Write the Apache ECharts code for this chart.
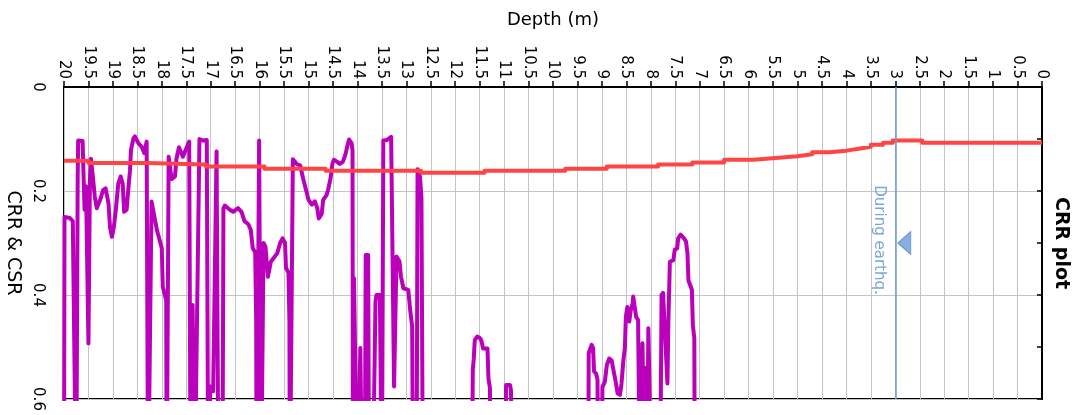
<!DOCTYPE html>
<html>
<head>
<meta charset="utf-8">
<script src="https://cdn.jsdelivr.net/npm/echarts@6/dist/echarts.min.js"></script>
<style>
html,body{margin:0;padding:0;background:#fff;}
#chart{width:1074px;height:415px;}
</style>
</head>
<body>
<div id="chart"></div>
<script>
// CRR (purple, spiky) : depth (m) and ratio; 0.8 = beyond the 0.6 axis limit
const crrDepth = [20.00,19.99,19.88,19.82,19.81,19.75,19.73,19.72,19.71,19.62,19.58,19.55,19.50,19.47,19.45,19.41,19.37,19.33,19.26,19.20,19.15,19.09,19.06,19.02,18.98,18.94,18.89,18.84,18.80,18.77,18.72,18.69,18.65,18.63,18.58,18.55,18.48,18.41,18.36,18.31,18.28,18.24,18.21,18.14,18.10,18.00,17.98,17.91,17.90,17.87,17.86,17.80,17.73,17.70,17.65,17.61,17.57,17.44,17.41,17.37,17.33,17.23,17.16,17.08,17.05,17.01,16.95,16.88,16.84,16.76,16.74,16.71,16.61,16.54,16.44,16.37,16.31,16.23,16.18,16.14,16.09,16.07,16.06,16.02,16.01,15.97,15.94,15.92,15.88,15.83,15.79,15.77,15.72,15.64,15.58,15.53,15.48,15.46,15.41,15.39,15.38,15.35,15.32,15.24,15.17,15.11,15.05,15.00,14.93,14.87,14.82,14.79,14.73,14.70,14.63,14.60,14.55,14.51,14.48,14.41,14.36,14.30,14.27,14.24,14.21,14.17,14.12,14.10,14.09,14.07,14.00,13.94,13.90,13.85,13.83,13.78,13.76,13.69,13.63,13.61,13.54,13.50,13.49,13.47,13.40,13.31,13.27,13.25,13.20,13.14,13.11,13.06,12.96,12.92,12.88,12.86,12.79,12.77,12.72,12.69,12.66,11.66,11.64,11.62,11.60,11.55,11.49,11.46,11.43,11.34,11.32,11.29,11.27,10.98,10.96,10.88,10.86,10.82,9.28,9.27,9.21,9.18,9.16,9.12,9.09,9.07,9.00,8.99,8.94,8.90,8.85,8.80,8.75,8.71,8.68,8.63,8.60,8.56,8.53,8.51,8.48,8.44,8.41,8.37,8.36,8.32,8.30,8.26,8.22,8.19,8.17,8.12,8.10,8.08,8.05,7.98,7.81,7.78,7.75,7.71,7.66,7.64,7.61,7.54,7.51,7.46,7.44,7.39,7.32,7.28,7.25,7.23,7.16,7.14,7.11,7.10];
const crrValue = [0.8,0.25,0.252,0.258,0.339,0.8,0.8,0.172,0.103,0.104,0.236,0.191,0.493,0.179,0.138,0.172,0.211,0.233,0.217,0.198,0.195,0.224,0.269,0.288,0.269,0.236,0.186,0.172,0.186,0.240,0.236,0.202,0.160,0.121,0.099,0.095,0.108,0.115,0.127,0.105,0.8,0.8,0.220,0.255,0.275,0.310,0.384,0.410,0.8,0.8,0.134,0.177,0.172,0.138,0.116,0.113,0.134,0.105,0.8,0.419,0.8,0.100,0.103,0.102,0.8,0.576,0.585,0.124,0.8,0.8,0.233,0.228,0.236,0.240,0.233,0.240,0.258,0.264,0.275,0.310,0.318,0.448,0.8,0.8,0.103,0.8,0.8,0.300,0.307,0.365,0.365,0.336,0.330,0.320,0.300,0.291,0.300,0.348,0.357,0.450,0.8,0.8,0.139,0.148,0.151,0.176,0.198,0.217,0.226,0.220,0.233,0.253,0.244,0.217,0.208,0.198,0.176,0.147,0.140,0.144,0.148,0.144,0.137,0.128,0.115,0.101,0.108,0.121,0.8,0.368,0.8,0.502,0.8,0.8,0.323,0.323,0.8,0.8,0.413,0.400,0.400,0.8,0.8,0.103,0.102,0.096,0.099,0.576,0.326,0.335,0.364,0.387,0.390,0.429,0.461,0.8,0.8,0.158,0.172,0.214,0.8,0.8,0.544,0.522,0.487,0.480,0.483,0.489,0.503,0.503,0.560,0.579,0.8,0.8,0.573,0.573,0.583,0.8,0.8,0.512,0.496,0.502,0.547,0.551,0.563,0.8,0.8,0.577,0.567,0.535,0.522,0.526,0.551,0.571,0.589,0.592,0.571,0.525,0.502,0.442,0.423,0.451,0.429,0.416,0.403,0.403,0.442,0.448,0.8,0.8,0.493,0.8,0.540,0.8,0.464,0.8,0.8,0.400,0.396,0.396,0.570,0.450,0.336,0.333,0.313,0.310,0.291,0.284,0.291,0.297,0.320,0.372,0.390,0.458,0.483,0.8];

// CSR (red, stepped)
const csrDepth = [20,19.5,19.5,18.3,18.3,17.1,17.1,15.9,15.9,14.65,14.65,12.7,12.7,11.4,11.4,9.75,9.75,8.9,8.9,7.85,7.85,7.15,7.15,6.5,6.5,5.9,5.9,5.45,5.45,5.0,5.0,4.7,4.7,4.35,4.35,4.0,4.0,3.75,3.75,3.5,3.5,3.25,3.25,3.05,3.05,2.45,2.45,0];
const csrValue = [0.142,0.142,0.146,0.146,0.149,0.149,0.153,0.153,0.157,0.157,0.161,0.161,0.165,0.165,0.161,0.161,0.157,0.157,0.153,0.153,0.149,0.149,0.145,0.145,0.140,0.140,0.1365,0.1365,0.133,0.133,0.1295,0.1295,0.1256,0.1256,0.1224,0.1224,0.1186,0.1186,0.115,0.115,0.111,0.111,0.107,0.107,0.103,0.103,0.107,0.107];

// Groundwater level during earthquake
const gwtDepth = 3;
const gwtMarkValue = 0.3;
const gwtLabel = 'During earthq.';

const titleText = 'CRR plot';
const xName = 'Depth (m)';
const yName = 'CRR & CSR';

const FONT = 'DejaVu Sans';
const chart = echarts.init(document.getElementById('chart'), null, {renderer: 'canvas'});

const crrData = crrDepth.map((d, i) => [d, crrValue[i]]);
const csrData = csrDepth.map((d, i) => [d, csrValue[i]]);

chart.setOption({
  animation: false,
  backgroundColor: '#fff',
  grid: {left: 64, right: 32, top: 87, bottom: 16, show: true, borderColor: '#000', borderWidth: 2,
    backgroundColor: 'transparent', containLabel: false, outerBoundsMode: 'none'},
  xAxis: {
    type: 'value', position: 'top', inverse: true, min: 0, max: 20, interval: 0.5,
    name: xName, nameLocation: 'middle', nameGap: 58,
    nameTextStyle: {fontFamily: FONT, fontSize: 18, color: '#000'},
    axisLine: {show: true, lineStyle: {color: '#000', width: 2}},
    axisTick: {show: true, length: 6, lineStyle: {color: '#000', width: 1.5}},
    axisLabel: {rotate: -90, margin: 8, fontFamily: FONT, fontSize: 15, color: '#000',
      formatter: v => String(Math.round(v * 10) / 10)},
    splitLine: {show: true, lineStyle: {color: '#c4c4c4', width: 1}}
  },
  yAxis: {
    type: 'value', inverse: true, min: 0, max: 0.6, interval: 0.2,
    name: yName, nameLocation: 'middle', nameGap: 36, nameRotate: -90,
    nameTextStyle: {fontFamily: FONT, fontSize: 19, color: '#000'},
    axisLine: {show: true, lineStyle: {color: '#000', width: 2}},
    axisTick: {show: true, length: 5, lineStyle: {color: '#000', width: 1.5}},
    minorTick: {show: true, splitNumber: 2, length: 5, lineStyle: {color: '#000', width: 1.5}},
    axisLabel: {rotate: -90, margin: 19, fontFamily: FONT, fontSize: 15, color: '#000',
      formatter: v => String(Math.round(v * 10) / 10)},
    splitLine: {show: true, lineStyle: {color: '#c4c4c4', width: 1}}
  },
  series: [
    {
      name: 'CRR', type: 'line', data: crrData, showSymbol: false, symbol: 'none', clip: true,
      lineStyle: {color: '#bb00bb', width: 4, join: 'round', cap: 'round'}, z: 3
    },
    {
      name: 'CSR', type: 'line', data: csrData, showSymbol: false, symbol: 'none', clip: true,
      lineStyle: {color: '#ff4444', width: 4, join: 'round'}, z: 4
    },
    {
      name: 'GWT', type: 'scatter', data: [[gwtDepth, gwtMarkValue]],
      symbol: 'triangle', symbolSize: [23, 13], symbolRotate: 90, symbolOffset: [9, 0],
      itemStyle: {color: '#6a9bd8', borderColor: '#4f82c4', borderWidth: 1},
      z: 5, silent: true,
      markLine: {
        silent: true, symbol: 'none', label: {show: false},
        lineStyle: {color: '#6a9bd8', width: 1.5, type: 'solid'},
        data: [{xAxis: gwtDepth}]
      }
    },
    {
      name: 'GWT label', type: 'scatter', data: [[gwtDepth, gwtMarkValue]],
      symbolSize: 1, itemStyle: {color: 'transparent'}, silent: true, z: 5,
      label: {show: true, formatter: gwtLabel, position: 'inside', rotate: -90, offset: [-3, 16],
        align: 'center', verticalAlign: 'middle',
        fontFamily: FONT, fontSize: 15, color: '#5b8fd0'}
    }
  ],
  graphic: [{
    type: 'text', x: 1061, y: 243, rotation: -Math.PI / 2,
    style: {text: titleText, align: 'center', verticalAlign: 'middle',
      font: 'bold 19px "DejaVu Sans"', fill: '#000'}
  }]
});
</script>
</body>
</html>
